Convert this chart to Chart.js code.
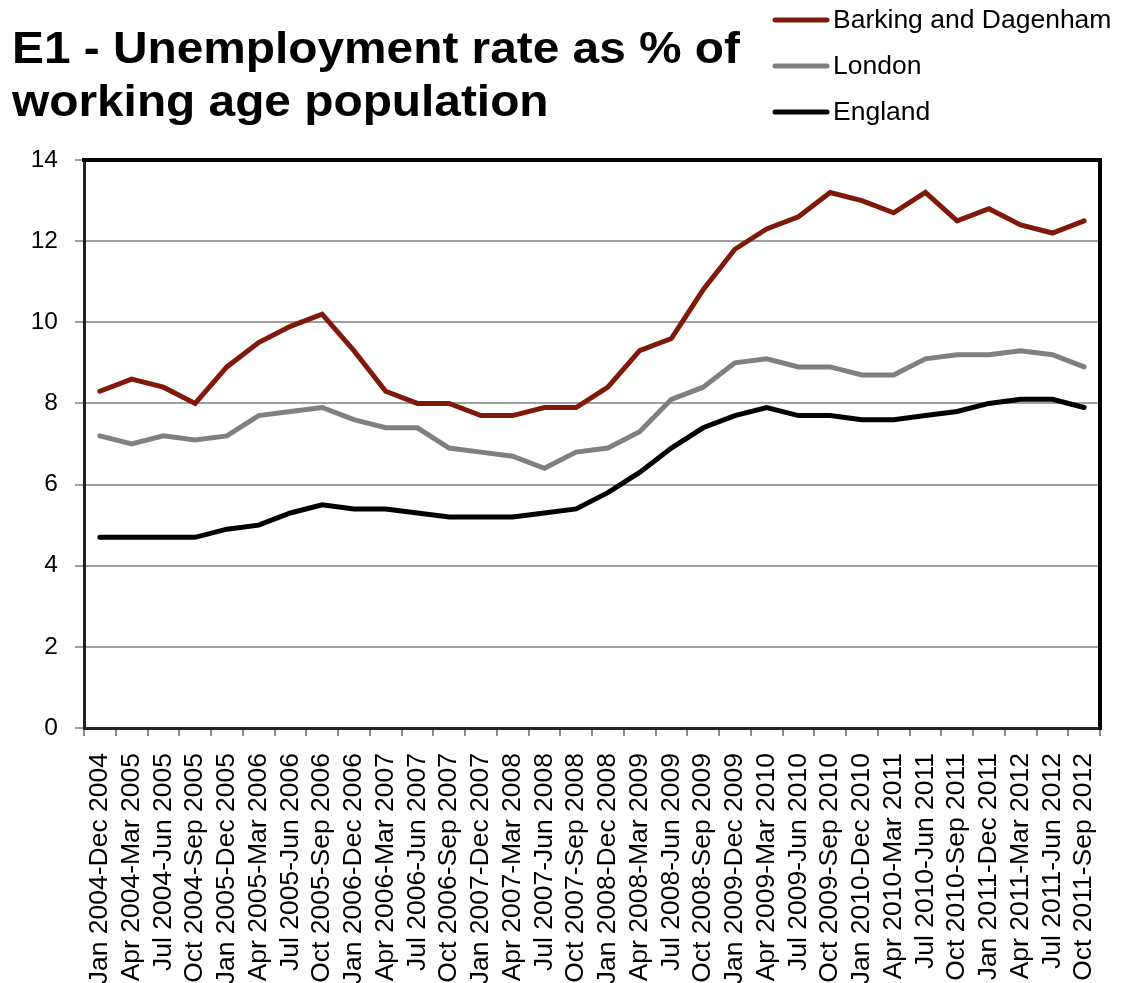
<!DOCTYPE html>
<html>
<head>
<meta charset="utf-8">
<script src="https://cdn.jsdelivr.net/npm/chart.js@4.4.1/dist/chart.umd.min.js"></script>
<style>
  html, body { margin: 0; padding: 0; background: #ffffff; }
  #wrap { width: 1127px; height: 983px; position: relative; }
</style>
</head>
<body>
<div id="wrap"><canvas id="chart" width="1127" height="983"></canvas></div>
<script>
// Rolling annual periods (quarterly steps)
const periods = [
  "Jan 2004-Dec 2004", "Apr 2004-Mar 2005", "Jul 2004-Jun 2005", "Oct 2004-Sep 2005",
  "Jan 2005-Dec 2005", "Apr 2005-Mar 2006", "Jul 2005-Jun 2006", "Oct 2005-Sep 2006",
  "Jan 2006-Dec 2006", "Apr 2006-Mar 2007", "Jul 2006-Jun 2007", "Oct 2006-Sep 2007",
  "Jan 2007-Dec 2007", "Apr 2007-Mar 2008", "Jul 2007-Jun 2008", "Oct 2007-Sep 2008",
  "Jan 2008-Dec 2008", "Apr 2008-Mar 2009", "Jul 2008-Jun 2009", "Oct 2008-Sep 2009",
  "Jan 2009-Dec 2009", "Apr 2009-Mar 2010", "Jul 2009-Jun 2010", "Oct 2009-Sep 2010",
  "Jan 2010-Dec 2010", "Apr 2010-Mar 2011", "Jul 2010-Jun 2011", "Oct 2010-Sep 2011",
  "Jan 2011-Dec 2011", "Apr 2011-Mar 2012", "Jul 2011-Jun 2012", "Oct 2011-Sep 2012"
];

// Unemployment rate, % of working age population
const barkingDagenham = [
  8.3, 8.6, 8.4, 8.0, 8.9, 9.5, 9.9, 10.2,
  9.3, 8.3, 8.0, 8.0, 7.7, 7.7, 7.9, 7.9,
  8.4, 9.3, 9.6, 10.8, 11.8, 12.3, 12.6, 13.2,
  13.0, 12.7, 13.2, 12.5, 12.8, 12.4, 12.2, 12.5
];
const london = [
  7.2, 7.0, 7.2, 7.1, 7.2, 7.7, 7.8, 7.9,
  7.6, 7.4, 7.4, 6.9, 6.8, 6.7, 6.4, 6.8,
  6.9, 7.3, 8.1, 8.4, 9.0, 9.1, 8.9, 8.9,
  8.7, 8.7, 9.1, 9.2, 9.2, 9.3, 9.2, 8.9
];
const england = [
  4.7, 4.7, 4.7, 4.7, 4.9, 5.0, 5.3, 5.5,
  5.4, 5.4, 5.3, 5.2, 5.2, 5.2, 5.3, 5.4,
  5.8, 6.3, 6.9, 7.4, 7.7, 7.9, 7.7, 7.7,
  7.6, 7.6, 7.7, 7.8, 8.0, 8.1, 8.1, 7.9
];

const seriesNames = ["Barking and Dagenham", "London", "England"];
const titleLines = ["E1 - Unemployment rate as % of", "working age population"];
const yMin = 0, yMax = 14, yStep = 2;

const FONT = '"Liberation Sans", Arial, Helvetica, sans-serif';

// Title and the stacked legend in the header band
const headerPlugin = {
  id: 'headerPlugin',
  afterDraw(chart) {
    const ctx = chart.ctx;
    ctx.save();
    ctx.fillStyle = '#000000';
    ctx.textBaseline = 'alphabetic';
    ctx.textAlign = 'left';
    ctx.font = 'bold 44px ' + FONT;
    // the heading is set slightly wide: first line runs to x = 740
    const sx = 728 / ctx.measureText(titleLines[0]).width;
    ctx.save();
    ctx.translate(12, 0);
    ctx.scale(sx, 1);
    ctx.fillText(titleLines[0], 0, 63);
    ctx.fillText(titleLines[1], 0, 116);
    ctx.restore();

    ctx.font = '26.5px ' + FONT;
    ctx.textBaseline = 'middle';
    chart.data.datasets.forEach((ds, i) => {
      const y = 20 + i * 46;
      ctx.strokeStyle = ds.borderColor;
      ctx.lineWidth = 5;
      ctx.lineCap = 'round';
      ctx.beginPath();
      ctx.moveTo(775, y);
      ctx.lineTo(827, y);
      ctx.stroke();
      ctx.fillStyle = '#000000';
      ctx.fillText(ds.label, 833, y + 1);
    });
    ctx.restore();
  }
};

// Heavy frame on the top and right of the plot area
const framePlugin = {
  id: 'framePlugin',
  afterDatasetsDraw(chart) {
    const { ctx, chartArea: a } = chart;
    ctx.save();
    ctx.strokeStyle = '#000000';
    ctx.lineWidth = 4;
    ctx.lineCap = 'square';
    ctx.beginPath();
    ctx.moveTo(a.left, a.top);
    ctx.lineTo(a.right, a.top);
    ctx.lineTo(a.right, a.bottom);
    ctx.stroke();
    ctx.restore();
  }
};

new Chart(document.getElementById('chart'), {
  type: 'line',
  data: {
    labels: periods,
    datasets: [
      { label: seriesNames[0], data: barkingDagenham, borderColor: '#7f1a0b' },
      { label: seriesNames[1], data: london, borderColor: '#808080' },
      { label: seriesNames[2], data: england, borderColor: '#000000' }
    ].map(d => Object.assign(d, {
      borderWidth: 5,
      pointRadius: 0,
      tension: 0,
      fill: false,
      borderJoinStyle: 'miter',
      borderCapStyle: 'round'
    }))
  },
  options: {
    responsive: false,
    animation: false,
    devicePixelRatio: 1,
    layout: { padding: { top: 160, right: 27, left: 0, bottom: 0 } },
    plugins: {
      legend: { display: false },
      title: { display: false },
      tooltip: { enabled: false }
    },
    scales: {
      x: {
        offset: true,
        grid: {
          offset: true,
          drawOnChartArea: false,
          drawTicks: true,
          tickLength: 8,
          color: '#8c8c8c',
          lineWidth: 2
        },
        border: { display: true, color: '#222222', width: 3 },
        ticks: {
          autoSkip: false,
          minRotation: 90,
          maxRotation: 90,
          padding: 17,
          color: '#000000',
          font: { family: FONT, size: 26.5 }
        },
        afterFit(scale) {
          scale.height = 255;
          scale.paddingLeft = 0;
          scale.paddingRight = 0;
        }
      },
      y: {
        min: yMin,
        max: yMax,
        ticks: {
          stepSize: yStep,
          padding: 17,
          color: '#000000',
          font: { family: FONT, size: 24.5 }
        },
        grid: {
          color: '#a0a0a0',
          lineWidth: 2,
          tickLength: 9,
          drawTicks: true
        },
        border: { display: true, color: '#222222', width: 3 },
        afterFit(scale) { scale.width = 84; }
      }
    }
  },
  plugins: [headerPlugin, framePlugin]
});
</script>
</body>
</html>
